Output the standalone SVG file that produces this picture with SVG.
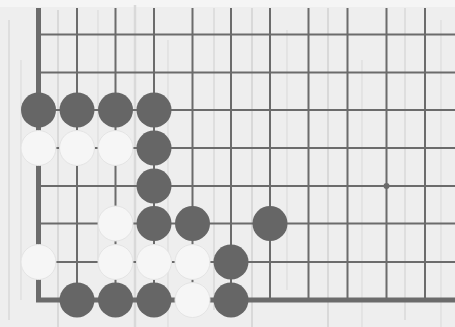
<svg xmlns="http://www.w3.org/2000/svg" width="455" height="327" viewBox="0 0 455 327">
<style>
.bg{fill:#eeeeee}
.streak{stroke:#d9d9d9;fill:none}
.ln{stroke:#6b6b6b;stroke-width:2;fill:none}
.edge{stroke:#6b6b6b;stroke-width:5;fill:none}
.b{fill:#666666}
.w{fill:#f6f6f6;stroke:#e4e4e4;stroke-width:1}
</style>
<rect class="bg" x="0" y="0" width="455" height="327"/>
<rect x="0" y="0" width="455" height="7" fill="#f5f5f5"/>
<g id="texture">
<line class="streak" stroke-width="1.5" x1="9" y1="20" x2="9" y2="320"/>
<line class="streak" stroke-width="1" x1="21" y1="60" x2="21" y2="300"/>
<line class="streak" stroke-width="2" x1="58" y1="10" x2="58" y2="327"/>
<line class="streak" stroke-width="1" x1="98" y1="10" x2="98" y2="260"/>
<line class="streak" stroke-width="2.5" x1="135" y1="5" x2="135" y2="327"/>
<line class="streak" stroke-width="1" x1="168" y1="40" x2="168" y2="327"/>
<line class="streak" stroke-width="1.5" x1="214" y1="8" x2="214" y2="310"/>
<line class="streak" stroke-width="2" x1="252" y1="8" x2="252" y2="327"/>
<line class="streak" stroke-width="1" x1="287" y1="30" x2="287" y2="290"/>
<line class="streak" stroke-width="2" x1="328" y1="8" x2="328" y2="327"/>
<line class="streak" stroke-width="1" x1="362" y1="60" x2="362" y2="327"/>
<line class="streak" stroke-width="1.5" x1="405" y1="8" x2="405" y2="320"/>
<line class="streak" stroke-width="1" x1="441" y1="20" x2="441" y2="327"/>
</g>
<g id="grid">
<line class="ln" x1="77" y1="8" x2="77" y2="300"/>
<line class="ln" x1="115.5" y1="8" x2="115.5" y2="300"/>
<line class="ln" x1="154" y1="8" x2="154" y2="300"/>
<line class="ln" x1="192.5" y1="8" x2="192.5" y2="300"/>
<line class="ln" x1="231" y1="8" x2="231" y2="300"/>
<line class="ln" x1="270" y1="8" x2="270" y2="300"/>
<line class="ln" x1="308.5" y1="8" x2="308.5" y2="300"/>
<line class="ln" x1="347.5" y1="8" x2="347.5" y2="300"/>
<line class="ln" x1="386.5" y1="8" x2="386.5" y2="300"/>
<line class="ln" x1="425" y1="8" x2="425" y2="300"/>
<line class="ln" x1="38.5" y1="34.5" x2="455" y2="34.5"/>
<line class="ln" x1="38.5" y1="72.5" x2="455" y2="72.5"/>
<line class="ln" x1="38.5" y1="110" x2="455" y2="110"/>
<line class="ln" x1="38.5" y1="148" x2="455" y2="148"/>
<line class="ln" x1="38.5" y1="186" x2="455" y2="186"/>
<line class="ln" x1="38.5" y1="223.5" x2="455" y2="223.5"/>
<line class="ln" x1="38.5" y1="262" x2="455" y2="262"/>
<path class="edge" d="M38.5 8 V300 H455"/>
<circle cx="386.5" cy="186" r="3" fill="#6b6b6b"/>
</g>
<g id="stones">
<circle id="b-c0-r5" class="b" cx="38.5" cy="110" r="17.5"/>
<circle id="b-c1-r5" class="b" cx="77" cy="110" r="17.5"/>
<circle id="b-c2-r5" class="b" cx="115.5" cy="110" r="17.5"/>
<circle id="b-c3-r5" class="b" cx="154" cy="110" r="17.5"/>
<circle id="w-c0-r4" class="w" cx="38.5" cy="148" r="17.5"/>
<circle id="w-c1-r4" class="w" cx="77" cy="148" r="17.5"/>
<circle id="w-c2-r4" class="w" cx="115.5" cy="148" r="17.5"/>
<circle id="b-c3-r4" class="b" cx="154" cy="148" r="17.5"/>
<circle id="b-c3-r3" class="b" cx="154" cy="186" r="17.5"/>
<circle id="w-c2-r2" class="w" cx="115.5" cy="223.5" r="17.5"/>
<circle id="b-c3-r2" class="b" cx="154" cy="223.5" r="17.5"/>
<circle id="b-c4-r2" class="b" cx="192.5" cy="223.5" r="17.5"/>
<circle id="b-c6-r2" class="b" cx="270" cy="223.5" r="17.5"/>
<circle id="w-c0-r1" class="w" cx="38.5" cy="262" r="17.5"/>
<circle id="w-c2-r1" class="w" cx="115.5" cy="262" r="17.5"/>
<circle id="w-c3-r1" class="w" cx="154" cy="262" r="17.5"/>
<circle id="w-c4-r1" class="w" cx="192.5" cy="262" r="17.5"/>
<circle id="b-c5-r1" class="b" cx="231" cy="262" r="17.5"/>
<circle id="b-c1-r0" class="b" cx="77" cy="300" r="17.5"/>
<circle id="b-c2-r0" class="b" cx="115.5" cy="300" r="17.5"/>
<circle id="b-c3-r0" class="b" cx="154" cy="300" r="17.5"/>
<circle id="w-c4-r0" class="w" cx="192.5" cy="300" r="17.5"/>
<circle id="b-c5-r0" class="b" cx="231" cy="300" r="17.5"/>
</g>
</svg>
